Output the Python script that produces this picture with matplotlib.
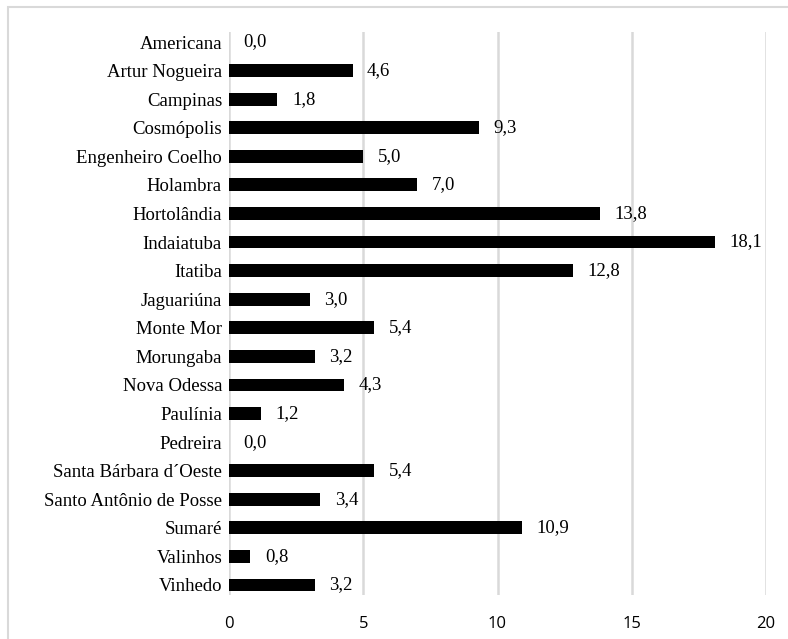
import matplotlib
matplotlib.use("Agg")
import matplotlib.pyplot as plt
from matplotlib.patches import Rectangle

municipios = [
    "Americana", "Artur Nogueira", "Campinas", "Cosmópolis", "Engenheiro Coelho",
    "Holambra", "Hortolândia", "Indaiatuba", "Itatiba", "Jaguariúna",
    "Monte Mor", "Morungaba", "Nova Odessa", "Paulínia", "Pedreira",
    "Santa Bárbara d´Oeste", "Santo Antônio de Posse", "Sumaré", "Valinhos", "Vinhedo",
]
valores = [0.0, 4.6, 1.8, 9.3, 5.0, 7.0, 13.8, 18.1, 12.8, 3.0,
           5.4, 3.2, 4.3, 1.2, 0.0, 5.4, 3.4, 10.9, 0.8, 3.2]
x_ticks = [0, 5, 10, 15, 20]

W, H = 788, 639
fig = plt.figure(figsize=(W / 100, H / 100), dpi=100)

# outer chart-area border (continues past the right and bottom edges)
top = 1 - 7.5 / H
fig.patches.append(Rectangle((8 / W, -0.2), 1.2, top + 0.2, transform=fig.transFigure,
                             fill=False, edgecolor="#d9d9d9", linewidth=1.5))

ax = fig.add_axes([229 / W, 1 - 595 / H, (766 - 229) / W, (595 - 32) / H])

pos = list(range(len(municipios)))
ax.barh(pos, valores, height=0.45, color="black")

serif = "Liberation Serif"
for p, v in zip(pos, valores):
    label = f"{v:.1f}".replace(".", ",")
    ax.annotate(label, xy=(v, p), xytext=(10.5, 0), textcoords="offset points",
                ha="left", va="center", fontsize=13.5, family=serif)

ax.set_ylim(len(municipios) - 0.65, -0.35)
ax.set_xlim(0, 20)
ax.set_yticks(pos)
ax.set_yticklabels(municipios, family=serif, fontsize=13.5)
ax.set_xticks(x_ticks)
ax.set_xticklabels([str(t) for t in x_ticks], family="Open Sans", fontsize=12)
ax.tick_params(axis="y", length=0, pad=5)
ax.tick_params(axis="x", length=0, pad=15)

ax.grid(axis="x", color="#d9d9d9", linewidth=1.8)
ax.set_axisbelow(True)
for s in ax.spines.values():
    s.set_visible(False)

fig.savefig("out.png", dpi=100)
